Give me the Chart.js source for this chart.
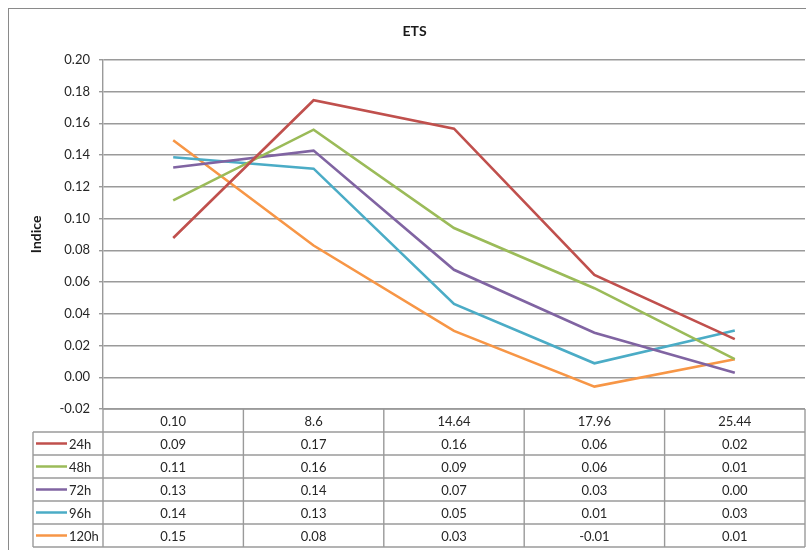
<!DOCTYPE html>
<html>
<head>
<meta charset="utf-8">
<title>ETS</title>
<script src="https://cdn.jsdelivr.net/npm/chart.js@4.4.1/dist/chart.umd.min.js"></script>
<style>
  html, body { margin: 0; padding: 0; background: #ffffff; }
  #wrap { position: relative; width: 806px; height: 550px; }
</style>
</head>
<body>
<div id="wrap"><canvas id="ets"></canvas></div>
<script>
// Categories along the horizontal axis
const categories = ['0.10', '8.6', '14.64', '17.96', '25.44'];

// Series names and values of the index
const seriesNames = ['24h', '48h', '72h', '96h', '120h'];
const s24h  = [0.0877, 0.1745, 0.1566, 0.0645, 0.0240];
const s48h  = [0.1114, 0.1560, 0.0940, 0.0561, 0.0114];
const s72h  = [0.1322, 0.1428, 0.0677, 0.0281, 0.0029];
const s96h  = [0.1386, 0.1314, 0.0462, 0.0088, 0.0294];
const s120h = [0.1493, 0.0830, 0.0292, -0.0059, 0.0114];

// Vertical axis range and step
const yMin = -0.02;
const yMax = 0.20;
const yStep = 0.02;

const seriesValues = [s24h, s48h, s72h, s96h, s120h];
const seriesColors = ['#C0504D', '#9BBB59', '#8064A2', '#4BACC6', '#F79646'];

const FONT = 'Lato, "Open Sans", "Liberation Sans", sans-serif';
const TEXT = '#262626';
const GRID = '#9a9a9a';
const ROW_H = 23;

// Outer frame of the chart and the data table under the plot
const tablePlugin = {
  id: 'dataTable',
  beforeDraw(chart) {
    const ctx = chart.ctx;
    ctx.save();
    ctx.fillStyle = '#ffffff';
    ctx.fillRect(0, 0, chart.width, chart.height);
    ctx.strokeStyle = '#8a8a8a';
    ctx.lineWidth = 1;
    ctx.strokeRect(8.5, 8.5, chart.width + 20, chart.height + 20);
    ctx.restore();
  },
  afterDraw(chart) {
    const ctx = chart.ctx;
    const xs = chart.scales.x;
    const area = chart.chartArea;
    const half = (xs.getPixelForValue(1) - xs.getPixelForValue(0)) / 2;
    const colLeft = xs.getPixelForValue(0) - half;
    const colRight = xs.getPixelForValue(categories.length - 1) + half;
    const legLeft = colLeft - 70;
    const top = area.bottom;
    const nRows = seriesNames.length + 1;
    const bottom = top + nRows * ROW_H;

    ctx.save();
    ctx.strokeStyle = GRID;
    ctx.lineWidth = 1.4;

    // horizontal rules
    for (let r = 0; r <= nRows; r++) {
      const y = top + r * ROW_H;
      ctx.beginPath();
      ctx.moveTo(r >= 1 ? legLeft : colLeft, y);
      ctx.lineTo(colRight, y);
      ctx.stroke();
    }
    // column boundaries
    for (let i = 0; i <= categories.length; i++) {
      const x = colLeft + i * 2 * half;
      ctx.beginPath();
      ctx.moveTo(x, top);
      ctx.lineTo(x, bottom);
      ctx.stroke();
    }
    ctx.beginPath();
    ctx.moveTo(legLeft, top + ROW_H);
    ctx.lineTo(legLeft, bottom);
    ctx.stroke();

    // header: category labels
    ctx.fillStyle = TEXT;
    ctx.font = '13px ' + FONT;
    ctx.textAlign = 'center';
    ctx.textBaseline = 'middle';
    categories.forEach((c, i) => {
      ctx.fillText(c, xs.getPixelForValue(i), top + ROW_H / 2 + 1);
    });

    // series rows: legend key + values
    seriesNames.forEach((name, r) => {
      const yc = top + (r + 1) * ROW_H + ROW_H / 2 + 1;
      ctx.strokeStyle = seriesColors[r];
      ctx.lineWidth = 2.5;
      ctx.beginPath();
      ctx.moveTo(legLeft + 3, yc - 1);
      ctx.lineTo(legLeft + 34, yc - 1);
      ctx.stroke();
      ctx.fillStyle = TEXT;
      ctx.textAlign = 'left';
      ctx.fillText(name, legLeft + 36, yc);
      ctx.textAlign = 'center';
      seriesValues[r].forEach((v, i) => {
        ctx.fillText(v.toFixed(2), xs.getPixelForValue(i), yc);
      });
    });
    ctx.restore();
  }
};

const datasets = seriesNames.map((name, i) => ({
  label: name,
  data: seriesValues[i],
  borderColor: seriesColors[i],
  backgroundColor: seriesColors[i],
  borderWidth: 2.6,
  pointRadius: 0,
  pointHoverRadius: 0,
  tension: 0,
  fill: false
}));

new Chart(document.getElementById('ets'), {
  type: 'line',
  data: { labels: categories, datasets },
  options: {
    responsive: true,
    maintainAspectRatio: false,
    animation: false,
    events: [],
    layout: { padding: { left: 24, right: 1, top: 0, bottom: 141 } },
    plugins: {
      legend: { display: false },
      tooltip: { enabled: false },
      title: {
        display: true,
        text: 'ETS',
        color: '#1a1a1a',
        font: { family: FONT, size: 14, weight: 'bold' },
        padding: { top: 23, bottom: 20 }
      }
    },
    scales: {
      x: {
        type: 'category',
        display: false,
        offset: true
      },
      y: {
        min: yMin,
        max: yMax,
        afterFit(scale) { scale.width = 79; },
        ticks: {
          stepSize: yStep,
          color: TEXT,
          padding: 9,
          font: { family: FONT, size: 13 },
          callback: (v) => Number(v).toFixed(2)
        },
        grid: { color: GRID, lineWidth: 1.4, tickLength: 4 },
        border: { color: GRID, width: 1.4 },
        title: {
          display: true,
          text: 'Indice',
          color: '#1a1a1a',
          font: { family: FONT, size: 14, weight: 'bold' },
          padding: { top: 4, bottom: 0 }
        }
      }
    }
  },
  plugins: [tablePlugin]
});
</script>
</body>
</html>
